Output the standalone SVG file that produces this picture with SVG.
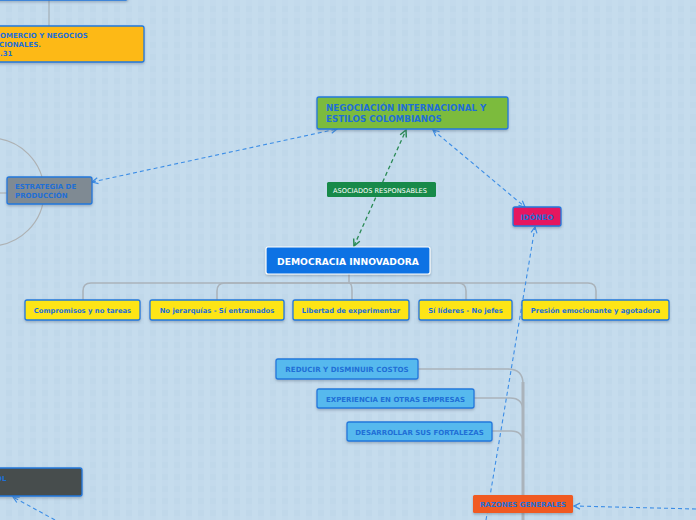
<svg xmlns="http://www.w3.org/2000/svg" width="696" height="520" viewBox="0 0 696 520">
<defs>
<pattern id="grid" width="12" height="12" patternUnits="userSpaceOnUse">
<rect width="12" height="12" fill="#c0d8ea"/>
<rect width="6" height="12" fill="#c5dced"/>
<rect width="12" height="6" fill="#c5dced" opacity="0.5"/>
</pattern>
<marker id="ab" viewBox="0 0 8 8" refX="7" refY="4" markerWidth="8" markerHeight="8" orient="auto-start-reverse" markerUnits="userSpaceOnUse">
<path d="M1,1 L7,4 L1,7" fill="none" stroke="#3d8ee6" stroke-width="1.2"/>
</marker>
<marker id="ag" viewBox="0 0 8 8" refX="7" refY="4" markerWidth="9" markerHeight="9" orient="auto-start-reverse" markerUnits="userSpaceOnUse">
<path d="M1,1 L7,4 L1,7" fill="none" stroke="#2a8a55" stroke-width="1.3"/>
</marker>
<filter id="sh" x="-10%" y="-20%" width="120%" height="150%">
<feDropShadow dx="0" dy="1.5" stdDeviation="1" flood-color="#456" flood-opacity="0.35"/>
</filter>
</defs>
<style>
.n{stroke:#2278dc;stroke-width:1.3;filter:url(#sh)}
.t{font-family:"DejaVu Sans",Verdana,sans-serif;font-weight:bold;fill:#1f6fd6}
.tree{fill:none;stroke:#aab3bb;stroke-width:1.6}
.db{fill:none;stroke:#3d8ee6;stroke-width:1.1;stroke-dasharray:4 3}
.dg{fill:none;stroke:#2a8a55;stroke-width:1.3;stroke-dasharray:4 3}
</style>
<rect width="696" height="520" fill="url(#grid)"/>

<g id="connectors">
<line x1="49" y1="0" x2="49" y2="26" stroke="#9aa4ab" stroke-width="1"/>
<circle cx="-10" cy="192" r="54" fill="none" stroke="#aeb2b4" stroke-width="1.2"/>
<line x1="0" y1="193" x2="7" y2="193" stroke="#aeb2b4" stroke-width="1.2"/>
<path class="tree" d="M349,274 V283"/>
<path class="tree" d="M349,283 H91 Q83,283 83,291 V300"/>
<path class="tree" d="M349,283 H225 Q217,283 217,291 V300"/>
<path class="tree" d="M349,283 Q352,283 352,291 V300"/>
<path class="tree" d="M349,283 H458 Q466,283 466,291 V300"/>
<path class="tree" d="M349,283 H588 Q596,283 596,291 V300"/>
<path class="tree" d="M418,369 H508 Q523,369 523,384"/>
<path class="tree" d="M474,398 H510 Q523,398 523,411"/>
<path class="tree" d="M492,431 H511 Q523,431 523,443"/>
<line x1="523" y1="382" x2="523" y2="520" stroke="#aab3bb" stroke-width="3"/>
<line class="db" x1="92" y1="182" x2="337" y2="129" marker-start="url(#ab)" marker-end="url(#ab)"/>
<line class="dg" x1="354" y1="246" x2="406" y2="130" marker-start="url(#ag)" marker-end="url(#ag)"/>
<line class="db" x1="433" y1="130" x2="525" y2="207" marker-start="url(#ab)" marker-end="url(#ab)"/>
<line class="db" x1="486" y1="520" x2="535" y2="227" marker-end="url(#ab)"/>
<line class="db" x1="696" y1="509" x2="574" y2="506" marker-end="url(#ab)"/>
<line class="db" x1="55" y1="520" x2="13" y2="497" marker-end="url(#ab)"/>
<g id="label-asociados">
<rect x="327" y="182" width="109" height="15" rx="1.5" fill="#178a49"/>
<text x="380" y="192.5" text-anchor="middle" font-family="DejaVu Sans,sans-serif" font-size="6.6" fill="#ffffff">ASOCIADOS RESPONSABLES</text>
</g>
</g>

<g id="top-box">
<rect class="n" x="-10" y="-20" width="138" height="20" rx="2" fill="#5d7390"/>
</g>
<g id="comercio">
<rect class="n" x="-10" y="26" width="154" height="36" rx="2" fill="#fdb913"/>
<text class="t" font-size="7" x="0" y="38">OMERCIO Y NEGOCIOS</text>
<text class="t" font-size="7" x="-1" y="47">CIONALES.</text>
<text class="t" font-size="7" x="0" y="56">.31</text>
</g>
<g id="estrategia">
<rect class="n" x="7" y="177" width="85" height="27" rx="2" fill="#7f8a93"/>
<text class="t" font-size="7" x="15" y="189">ESTRATEGIA DE</text>
<text class="t" font-size="7" x="15" y="198">PRODUCCIÓN</text>
</g>
<g id="negociacion">
<rect class="n" x="317" y="97" width="191" height="32" rx="2" fill="#7cbb3e"/>
<text class="t" font-size="8.7" x="326" y="111">NEGOCIACIÓN INTERNACIONAL Y</text>
<text class="t" font-size="8.7" x="326" y="122">ESTILOS COLOMBIANOS</text>
</g>
<g id="idoneo">
<rect class="n" x="513" y="207" width="48" height="19" rx="2" fill="#e6195e"/>
<text class="t" font-size="7.5" x="537" y="219.5" text-anchor="middle">IDÓNEO</text>
</g>
<g id="democracia">
<rect x="266" y="247" width="164" height="27" rx="2" fill="#0a72e4" stroke="#ffffff" stroke-width="1.2" filter="url(#sh)"/>
<text x="348" y="264.5" text-anchor="middle" font-family="DejaVu Sans,sans-serif" font-weight="bold" font-size="9.2" fill="#ffffff">DEMOCRACIA INNOVADORA</text>
</g>
<g id="compromisos">
<rect class="n" x="25" y="300" width="115" height="20" rx="2" fill="#fde514"/>
<text class="t" font-size="6.8" x="82.5" y="313" text-anchor="middle">Compromisos y no tareas</text>
</g>
<g id="jerarquias">
<rect class="n" x="150" y="300" width="134" height="20" rx="2" fill="#fde514"/>
<text class="t" font-size="6.8" x="217" y="313" text-anchor="middle">No jerarquías - Sí entramados</text>
</g>
<g id="libertad">
<rect class="n" x="293" y="300" width="116" height="20" rx="2" fill="#fde514"/>
<text class="t" font-size="6.8" x="351" y="313" text-anchor="middle">Libertad de experimentar</text>
</g>
<g id="lideres">
<rect class="n" x="419" y="300" width="93" height="20" rx="2" fill="#fde514"/>
<text class="t" font-size="6.8" x="465.5" y="313" text-anchor="middle">Sí líderes - No jefes</text>
</g>
<g id="presion">
<rect class="n" x="522" y="300" width="147" height="20" rx="2" fill="#fde514"/>
<text class="t" font-size="6.8" x="595.5" y="313" text-anchor="middle">Presión emocionante y agotadora</text>
</g>
<g id="reducir">
<rect class="n" x="276" y="359" width="142" height="20" rx="2" fill="#56b9ee"/>
<text class="t" font-size="7.1" x="347" y="372" text-anchor="middle">REDUCIR Y DISMINUIR COSTOS</text>
</g>
<g id="experiencia">
<rect class="n" x="317" y="389" width="157" height="19" rx="2" fill="#56b9ee"/>
<text class="t" font-size="7" x="395.5" y="401.5" text-anchor="middle">EXPERIENCIA EN OTRAS EMPRESAS</text>
</g>
<g id="desarrollar">
<rect class="n" x="347" y="422" width="145" height="19" rx="2" fill="#56b9ee"/>
<text class="t" font-size="7" x="419.5" y="434.5" text-anchor="middle">DESARROLLAR SUS FORTALEZAS</text>
</g>
<g id="razones">
<rect x="473" y="495" width="100" height="18" rx="1.5" fill="#f05a22" filter="url(#sh)"/>
<text class="t" font-size="7" x="523" y="507" text-anchor="middle">RAZONES GENERALES</text>
</g>
<g id="dark-box">
<rect class="n" x="-10" y="468" width="92" height="28" rx="2" fill="#474e4e"/>
<text class="t" font-size="7" x="-4" y="481">OL</text>
</g>
</svg>
